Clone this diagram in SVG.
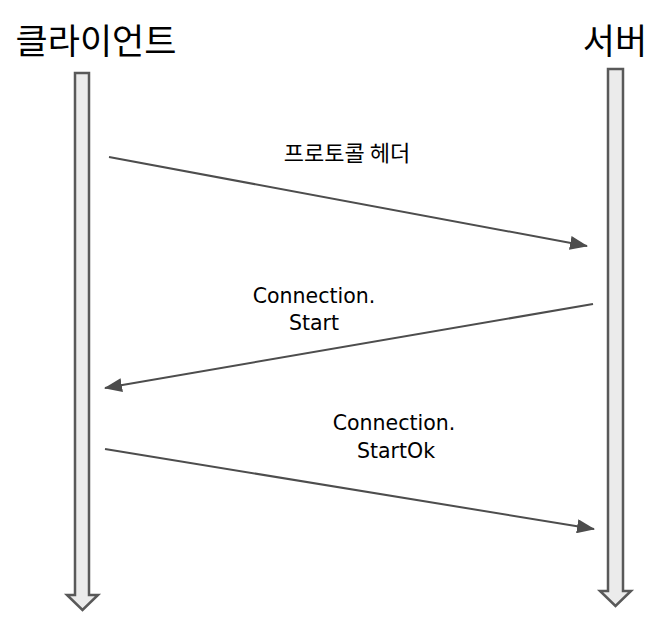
<svg xmlns="http://www.w3.org/2000/svg" width="664" height="629" viewBox="0 0 664 629">
<defs>
<style>
.life{fill:#ebebeb;stroke:#595959;stroke-width:2.5;stroke-linejoin:miter}
.title{font-family:"Noto Sans CJK KR","Noto Sans",sans-serif;font-size:35px;fill:#000}
.kr{font-family:"Noto Sans CJK KR","Noto Sans",sans-serif;font-size:22px;fill:#000}
.lbl{font-family:"Comic Sans MS","DejaVu Sans",sans-serif;font-size:20.5px;fill:#000}
.msg{stroke:#4d4d4d;stroke-width:2;fill:none;marker-end:url(#ah)}
</style>
<marker id="ah" viewBox="0 0 18 14" refX="17" refY="7" markerWidth="18" markerHeight="14" markerUnits="userSpaceOnUse" orient="auto">
<path d="M0,0 L18,7 L0,14 Z" fill="#4d4d4d"/>
</marker>
</defs>
<g id="client">
<text class="title" x="96" y="54" text-anchor="middle">클라이언트</text>
<path class="life" d="M75,73 H89 V595 H98 L82.5,610 L67,595 H75 Z"/>
</g>
<g id="server">
<text class="title" x="615" y="54" text-anchor="middle">서버</text>
<path class="life" d="M608,69 H623 V591 H631 L615.5,606 L600,591 H608 Z"/>
</g>
<g id="connectors">
<line class="msg" x1="109" y1="157" x2="587" y2="246"/>
<line class="msg" x1="593" y1="304" x2="105" y2="388"/>
<line class="msg" x1="105" y1="449" x2="594" y2="529"/>
</g>
<g id="labels">
<text class="kr" x="347" y="161" text-anchor="middle">프로토콜 헤더</text>
<text class="lbl" x="314" y="303" text-anchor="middle">Connection.</text>
<text class="lbl" x="314" y="330" text-anchor="middle">Start</text>
<text class="lbl" x="394" y="430" text-anchor="middle">Connection.</text>
<text class="lbl" x="396" y="458" text-anchor="middle">StartOk</text>
</g>
</svg>
